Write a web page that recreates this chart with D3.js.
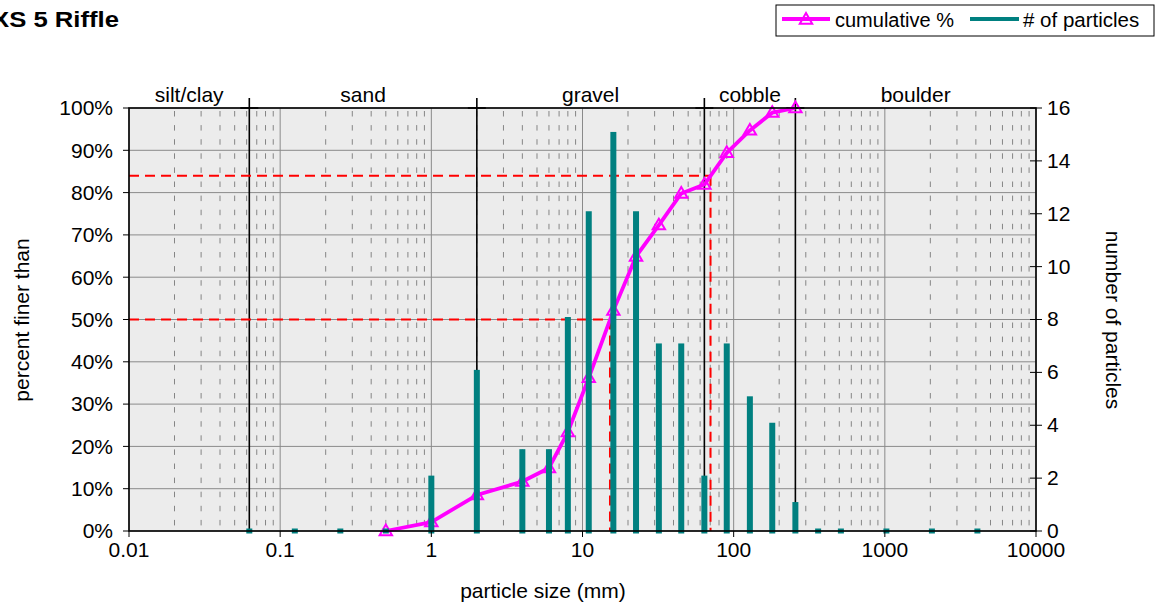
<!DOCTYPE html>
<html><head><meta charset="utf-8">
<script src="https://cdn.jsdelivr.net/npm/d3@7"></script>
<style>
html,body{margin:0;padding:0;background:#fff;}
svg{display:block;font-family:"Liberation Sans",Arial,sans-serif;}
</style></head>
<body>
<svg id="c" width="1162" height="605"></svg>
<script>
// ---- data ----
const title = "XS 5 Riffle";
const sizes  = [0.0625,0.125,0.25,0.5,1,2,4,6,8,11,16,22.6,32,45,64,90,128,180,256,362,512,1024,2048,4096];
const counts = [0,0,0,0,2,6,3,3,8,12,15,12,7,7,2,7,5,4,1,0,0,0,0,0];
const cumSizes = [0.5,1,2,4,6,8,11,16,22.6,32,45,64,90,128,180,256];
const cumPct   = [0,2.1,8.5,11.7,14.9,23.4,36.2,52.1,64.9,72.3,79.8,81.9,89.4,94.7,98.9,100];
const classBounds = [0.0625,2,64,256];
const classNames  = ["silt/clay","sand","gravel","cobble","boulder"];
const refPct  = [50,84];
const refSize = [15.2,70.3];
const xTicks  = [0.01,0.1,1,10,100,1000,10000];
const xTickLabels = ["0.01","0.1","1","10","100","1000","10000"];
const yTicks  = [0,10,20,30,40,50,60,70,80,90,100];
const y2Ticks = [0,2,4,6,8,10,12,14,16];

// ---- layout ----
const L=129,R=1036,T=108,B=531;
const FS=21;
const svg=d3.select("#c");
const x=d3.scaleLog().domain([0.01,10000]).range([L,R]);
const y=d3.scaleLinear().domain([0,100]).range([B,T]);
const y2=d3.scaleLinear().domain([0,16]).range([B,T]);

// background
svg.append("rect").attr("x",L).attr("y",T).attr("width",R-L).attr("height",B-T).attr("fill","#ececec");

// minor dashed verticals
const minor=[];
for(let d=-2;d<4;d++) for(let m=2;m<10;m++) minor.push(m*Math.pow(10,d));
svg.append("g").selectAll("line").data(minor).join("line")
  .attr("x1",d=>x(d)).attr("x2",d=>x(d)).attr("y1",T).attr("y2",B)
  .attr("stroke","#858585").attr("stroke-width",1).attr("stroke-dasharray","5.5,8.6")
  .attr("stroke-dashoffset",-3);

// major grid
svg.append("g").selectAll("line").data(xTicks).join("line")
  .attr("x1",d=>x(d)).attr("x2",d=>x(d)).attr("y1",T).attr("y2",B)
  .attr("stroke","#8a8a8a").attr("stroke-width",1);
svg.append("g").selectAll("line").data(yTicks).join("line")
  .attr("x1",L).attr("x2",R).attr("y1",d=>y(d)).attr("y2",d=>y(d))
  .attr("stroke","#8a8a8a").attr("stroke-width",1);

// class boundaries
const cb=svg.append("g");
cb.selectAll("line.v").data(classBounds).join("line").attr("class","v")
  .attr("x1",d=>x(d)).attr("x2",d=>x(d)).attr("y1",T-10).attr("y2",B)
  .attr("stroke","#000").attr("stroke-width",1.6);
cb.selectAll("line.h").data(classBounds).join("line").attr("class","h")
  .attr("x1",d=>x(d)-9).attr("x2",d=>x(d)+9).attr("y1",T).attr("y2",T)
  .attr("stroke","#000").attr("stroke-width",1.6);
const edges=[0.01,...classBounds,10000];
svg.append("g").selectAll("text").data(classNames).join("text")
  .attr("x",(d,i)=>x(Math.sqrt(edges[i]*edges[i+1]))).attr("y",T-6)
  .attr("text-anchor","middle").attr("font-size",FS).text(d=>d);

// red reference dashed lines
const rg=svg.append("g");
refPct.forEach((p,i)=>{
  rg.append("line").attr("x1",L).attr("x2",x(refSize[i])).attr("y1",y(p)).attr("y2",y(p))
    .attr("stroke","#ff0000").attr("stroke-width",2).attr("stroke-dasharray","10,6");
  rg.append("line").attr("x1",x(refSize[i])).attr("x2",x(refSize[i])).attr("y1",y(p)).attr("y2",B)
    .attr("stroke","#ff0000").attr("stroke-width",2).attr("stroke-dasharray","10,6");
});

// cumulative line
const tri="M0,-6.5L6.2,4.2L-6.2,4.2Z";
const cum=cumSizes.map((s,i)=>[s,cumPct[i]]);
svg.append("path").datum(cum)
  .attr("d",d3.line().x(d=>x(d[0])).y(d=>y(d[1])))
  .attr("fill","none").attr("stroke","#ff00ff").attr("stroke-width",3.8).attr("stroke-linejoin","round");
svg.append("g").selectAll("path").data(cum).join("path")
  .attr("transform",d=>`translate(${x(d[0])},${y(d[1])})`).attr("d",tri)
  .attr("fill","none").attr("stroke","#ff00ff").attr("stroke-width",2);

// particle count bars
svg.append("g").selectAll("rect").data(sizes.map((s,i)=>[s,counts[i]])).join("rect")
  .attr("x",d=>x(d[0])-3).attr("width",6)
  .attr("y",d=>y2(d[1])-2.5).attr("height",d=>y2(0)-y2(d[1])+5)
  .attr("fill","#008080");

// plot border
svg.append("rect").attr("x",L).attr("y",T).attr("width",R-L).attr("height",B-T)
  .attr("fill","none").attr("stroke","#000").attr("stroke-width",1.6);

// axes
const ax=svg.append("g");
ax.selectAll("line.xt").data(xTicks).join("line").attr("class","xt")
  .attr("x1",d=>x(d)).attr("x2",d=>x(d)).attr("y1",B).attr("y2",B+6).attr("stroke","#000");
ax.selectAll("text.xt").data(xTicks).join("text").attr("class","xt")
  .attr("x",d=>x(d)).attr("y",B+26).attr("text-anchor","middle").attr("font-size",FS)
  .text((d,i)=>xTickLabels[i]);
ax.selectAll("line.yt").data(yTicks).join("line").attr("class","yt")
  .attr("x1",L-6).attr("x2",L).attr("y1",d=>y(d)).attr("y2",d=>y(d)).attr("stroke","#000");
ax.selectAll("text.yt").data(yTicks).join("text").attr("class","yt")
  .attr("x",L-16).attr("y",d=>y(d)).attr("dy","0.35em").attr("text-anchor","end").attr("font-size",FS)
  .text(d=>d+"%");
ax.selectAll("line.y2t").data(y2Ticks).join("line").attr("class","y2t")
  .attr("x1",R-6).attr("x2",R+6).attr("y1",d=>y2(d)).attr("y2",d=>y2(d)).attr("stroke","#000");
ax.selectAll("text.y2t").data(y2Ticks).join("text").attr("class","y2t")
  .attr("x",R+11).attr("y",d=>y2(d)).attr("dy","0.33em").attr("text-anchor","start").attr("font-size",FS)
  .text(d=>d);

// axis titles
svg.append("text").attr("x",543).attr("y",598).attr("text-anchor","middle").attr("font-size",FS)
  .text("particle size (mm)");
svg.append("text").attr("transform","translate(29,320) rotate(-90)").attr("text-anchor","middle")
  .attr("font-size",FS).text("percent finer than");
svg.append("text").attr("transform","translate(1106,320) rotate(90)").attr("text-anchor","middle")
  .attr("font-size",FS).text("number of particles");

// title
svg.append("text").attr("x",119).attr("y",27).attr("text-anchor","end")
  .attr("font-size",22).attr("font-weight","bold")
  .attr("textLength",127).attr("lengthAdjust","spacingAndGlyphs").text(title);

// legend
const lg=svg.append("g");
lg.append("rect").attr("x",776).attr("y",5).attr("width",378).attr("height",31)
  .attr("fill","#fff").attr("stroke","#000").attr("stroke-width",1);
lg.append("line").attr("x1",782).attr("x2",830).attr("y1",19).attr("y2",19)
  .attr("stroke","#ff00ff").attr("stroke-width",3.8);
lg.append("path").attr("transform","translate(806,19.5)").attr("d",tri)
  .attr("fill","none").attr("stroke","#ff00ff").attr("stroke-width",2);
lg.append("text").attr("x",835).attr("y",26.5).attr("font-size",20).text("cumulative %");
lg.append("line").attr("x1",970).attr("x2",1019).attr("y1",19).attr("y2",19)
  .attr("stroke","#008080").attr("stroke-width",3.8);
lg.append("text").attr("x",1023).attr("y",26.5).attr("font-size",20.5).text("# of particles");
</script>
</body></html>
